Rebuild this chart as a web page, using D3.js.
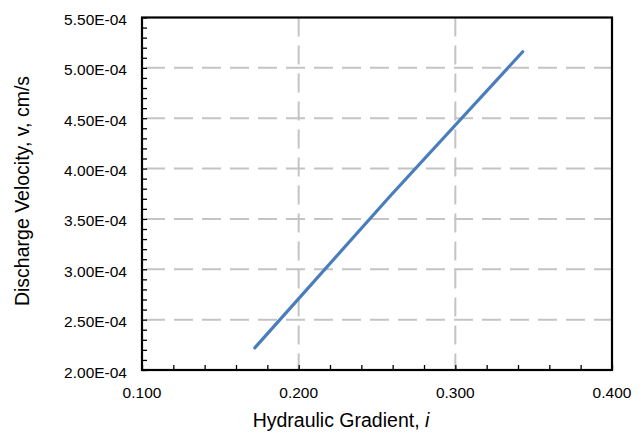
<!DOCTYPE html>
<html>
<head>
<meta charset="utf-8">
<script src="https://cdn.jsdelivr.net/npm/d3@7"></script>
<style>
  html, body { margin: 0; padding: 0; background: #ffffff; }
  svg { display: block; font-family: "Liberation Sans", Arial, sans-serif; }
</style>
</head>
<body>
<svg id="chart" width="643" height="433"></svg>
<script>
// Data
const gradient = [0.172, 0.258, 0.343];
const velocity = [2.22e-4, 3.72e-4, 5.16e-4];
const xTicks = [0.1, 0.2, 0.3, 0.4];
const yTicks = [2.0e-4, 2.5e-4, 3.0e-4, 3.5e-4, 4.0e-4, 4.5e-4, 5.0e-4, 5.5e-4];
const xTitle = "Hydraulic Gradient, ";
const xTitleItalic = "i";
const yTitle = "Discharge Velocity, v, cm/s";

const svg = d3.select("#chart");
const L = 142, R = 612, T = 17.5, B = 370;

const x = d3.scaleLinear().domain([0.1, 0.4]).range([L, R]);
const y = d3.scaleLinear().domain([2.0e-4, 5.5e-4]).range([B, T]);

const gridColor = "#c4c4c4";
const dash = "19,9";

// Gridlines
const g = svg.append("g");
g.selectAll("line.hg").data(yTicks.slice(1, -1)).enter().append("line")
  .attr("x1", L + 4).attr("x2", R)
  .attr("y1", d => y(d)).attr("y2", d => y(d))
  .attr("stroke", gridColor).attr("stroke-width", 2).attr("stroke-dasharray", dash);
g.selectAll("line.vg").data(xTicks.slice(1, -1)).enter().append("line")
  .attr("x1", d => x(d)).attr("x2", d => x(d))
  .attr("y1", T).attr("y2", B)
  .attr("stroke", gridColor).attr("stroke-width", 2).attr("stroke-dasharray", dash);

// Axes with inward ticks (major + minor)
const xMinor = d3.range(0.1, 0.4001, 0.02);
const yMinor = d3.range(2.0e-4, 5.5001e-4, 0.1e-4);

const xAxis = d3.axisBottom(x).tickValues(xMinor).tickSize(-5).tickFormat("");
const yAxis = d3.axisLeft(y).tickValues(yMinor).tickSize(-5).tickFormat("");

const xa = svg.append("g").attr("transform", `translate(0,${B})`).call(xAxis);
const ya = svg.append("g").attr("transform", `translate(${L},0)`).call(yAxis);
[xa, ya].forEach(a => {
  a.select(".domain").remove();
  a.selectAll(".tick line").attr("stroke", "#000").attr("stroke-width", 1.3);
});

// Plot border
svg.append("rect")
  .attr("x", L).attr("y", T).attr("width", R - L).attr("height", B - T)
  .attr("fill", "none").attr("stroke", "#000").attr("stroke-width", 2.2);

// Tick labels
svg.append("g").selectAll("text").data(xTicks).enter().append("text")
  .attr("x", d => x(d)).attr("y", 398)
  .attr("text-anchor", "middle").attr("font-size", 15.5).attr("fill", "#000")
  .text(d => d3.format(".3f")(d));

svg.append("g").selectAll("text").data(yTicks).enter().append("text")
  .attr("x", 127).attr("y", d => y(d) + 7.5)
  .attr("text-anchor", "end").attr("font-size", 15.5).attr("fill", "#000")
  .text(d => d.toExponential(2).toUpperCase().replace(/E([+-])(\d)$/, "E$10$2"));

// Axis titles
const xt = svg.append("text").attr("x", 341).attr("y", 427)
  .attr("text-anchor", "middle").attr("font-size", 19.5).attr("fill", "#000");
xt.append("tspan").text(xTitle);
xt.append("tspan").attr("font-style", "italic").text(xTitleItalic);

svg.append("text")
  .attr("transform", "translate(29,191) rotate(-90)")
  .attr("text-anchor", "middle").attr("font-size", 19.5).attr("fill", "#000")
  .text(yTitle);

// Data line
const pts = gradient.map((d, i) => [d, velocity[i]]);
svg.append("path")
  .datum(pts)
  .attr("d", d3.line().x(d => x(d[0])).y(d => y(d[1])))
  .attr("fill", "none").attr("stroke", "#4a7ebb").attr("stroke-width", 3.2)
  .attr("stroke-linecap", "round").attr("stroke-linejoin", "round");
</script>
</body>
</html>
